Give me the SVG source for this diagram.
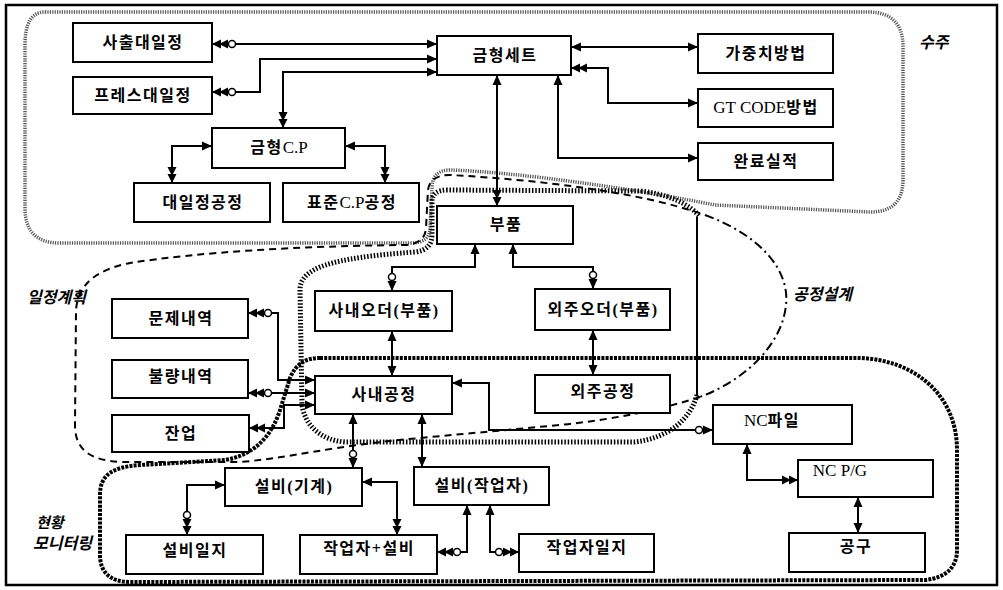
<svg xmlns="http://www.w3.org/2000/svg" width="1003" height="590" viewBox="0 0 1003 590">
<style>
.box{fill:#fff;stroke:#000;stroke-width:2}
.t{font-family:"Liberation Serif","Noto Sans CJK KR",serif;font-size:16px;font-weight:bold;letter-spacing:1.5px;text-anchor:middle;dominant-baseline:central;fill:#000}
.lat{font-weight:normal;letter-spacing:0}
.lbl{font-family:"Liberation Serif","Noto Sans CJK KR",serif;font-size:16px;font-weight:bold;font-style:italic;fill:#000}
.c{fill:none;stroke:#000;stroke-width:2}
.a1s{marker-start:url(#a1)}
.a2s{marker-start:url(#a2)}
.c2s{marker-start:url(#c2)}
.a1e{marker-end:url(#a1)}
.a2e{marker-end:url(#a2)}
.c1e{marker-end:url(#c1)}
.c2e{marker-end:url(#c2)}
.rgn-a{fill:none;stroke:#555;stroke-width:3.5;stroke-dasharray:1.2 1.2}
.rgn-b{fill:none;stroke:#000;stroke-width:2;stroke-dasharray:7 5}
.rgn-c{fill:none;stroke:#000;stroke-width:2;stroke-dasharray:9 4 2 4}
.rgn-d{fill:none;stroke:#000;stroke-width:5;stroke-dasharray:1.5 1.8}
.rgn-e{fill:none;stroke:#000;stroke-width:4;stroke-dasharray:3 1.2}
</style>
<defs>
<marker id="a1" markerUnits="userSpaceOnUse" markerWidth="30" markerHeight="30" refX="0" refY="0" orient="auto-start-reverse" overflow="visible">
<path d="M0,0 L-10,-4.5 L-10,4.5 Z" fill="#000"/>
</marker>
<marker id="a2" markerUnits="userSpaceOnUse" markerWidth="30" markerHeight="30" refX="0" refY="0" orient="auto-start-reverse" overflow="visible">
<path d="M0,0 L-9,-4.5 L-9,4.5 Z M-7,0 L-16,-4.5 L-16,4.5 Z" fill="#000"/>
</marker>
<marker id="c1" markerUnits="userSpaceOnUse" markerWidth="30" markerHeight="30" refX="0" refY="0" orient="auto-start-reverse" overflow="visible">
<path d="M0,0 L-10,-4.5 L-10,4.5 Z" fill="#000"/>
<circle cx="-14" cy="0" r="3.5" fill="#fff" stroke="#000" stroke-width="1.5"/>
</marker>
<marker id="c2" markerUnits="userSpaceOnUse" markerWidth="30" markerHeight="30" refX="0" refY="0" orient="auto-start-reverse" overflow="visible">
<path d="M0,0 L-9,-4.5 L-9,4.5 Z M-7,0 L-16,-4.5 L-16,4.5 Z" fill="#000"/>
<circle cx="-20" cy="0" r="3.5" fill="#fff" stroke="#000" stroke-width="1.5"/>
</marker>
</defs>
<rect width="1003" height="590" fill="#fff"/>
<rect x="6" y="5" width="991" height="580" fill="none" stroke="#000" stroke-width="2.5"/>

<g id="regions">
<path class="rgn-a" d="M45,12 H868 Q903,12 903,47 V180 Q903,212 870,212 L715,205 C640,190 520,172 450,170 Q432,170 432,188 L430,228 Q430,243 410,243 H60 Q25,243 25,208 V45 Q25,12 45,12 Z"/>
<path class="rgn-b" d="M700,397 C660,410 610,420 560,425 L420,438 C330,446 290,458 240,462 L120,462 C90,460 75,450 75,425 L76,310 C78,285 95,270 130,263 C200,252 300,246 405,245 Q425,244 426,228 L428,190 Q430,175 450,175 C540,180 640,192 705,215"/>
<path class="rgn-c" d="M705,215 C760,235 790,270 786,305 C782,345 745,380 700,397"/>
<path class="rgn-d" d="M697,395 C690,420 668,438 635,442 L345,442 C320,440 305,425 302,405 L300,290 C300,268 330,258 415,252 Q432,250 432,235 L432,202 Q432,190 447,190 L640,191 C668,194 690,204 700,217"/>
<line x1="697" y1="217" x2="697" y2="395" stroke="#000" stroke-width="2"/>
<path class="rgn-e" d="M320,358 L860,358 C915,360 957,395 957,450 L957,550 C957,568 945,578 925,580 L130,582 C110,582 100,572 100,555 L100,495 C100,475 112,467 140,465 L225,460 C255,455 272,435 280,410 L290,378 C296,364 305,358 320,358 Z"/>
<text class="lbl" x="919" y="48">수주</text>
<text class="lbl" x="27" y="303">일정계획</text>
<text class="lbl" x="793" y="300">공정설계</text>
<text class="lbl" x="36" y="528" style="font-size:15px">현황</text>
<text class="lbl" x="33" y="549">모니터링</text>
</g>

<g id="connectors">
<path class="c c2s a1e" d="M212,44 H437"/>
<path class="c c2s a1e" d="M212,92 H260 V59 H437"/>
<path class="c a1s a2e" d="M437,72 H283 V128"/>
<path class="c a1s a2e" d="M212,146 H172 V183"/>
<path class="c a1s a2e" d="M345,146 H385 V183"/>
<path class="c a1s a2e" d="M497,75 V206"/>
<path class="c a1s a1e" d="M571,47 H698"/>
<path class="c a2s a1e" d="M571,68 H608 V103 H698"/>
<path class="c a1s a1e" d="M558,75 V158 H698"/>
<path class="c a1s c1e" d="M475,244 V267 H392 V291"/>
<path class="c a1s c1e" d="M513,244 V267 H593 V289"/>
<path class="c a1s a1e" d="M392,331 V376"/>
<path class="c a1s a1e" d="M593,330 V375"/>
<path class="c c2s a1e" d="M248,313 H278 V380 H315"/>
<path class="c c2s a1e" d="M248,393 H315"/>
<path class="c a2s a1e" d="M249,428 H284 V405 H315"/>
<path class="c a1s c1e" d="M452,383 H489 V430 H713"/>
<path class="c a1s c1e" d="M353,414 V468"/>
<path class="c a1s a1e" d="M422,414 V467"/>
<path class="c a1s c2e" d="M225,485 H187 V535"/>
<path class="c a1s a2e" d="M362,482 H397 V535"/>
<path class="c a1s c2e" d="M467,505 V552 H437"/>
<path class="c a1s c2e" d="M490,505 V552 H519"/>
<path class="c a1s a2e" d="M747,444 V480 H798"/>
<path class="c a1s a1e" d="M858,497 V533"/>
</g>

<g id="n-sachul"><rect class="box" x="73" y="23" width="139" height="39"/><text class="t" x="143" y="42">사출대일정</text></g>
<g id="n-press"><rect class="box" x="73" y="77" width="139" height="37"/><text class="t" x="143" y="95">프레스대일정</text></g>
<g id="n-geumhyeongset"><rect class="box" x="437" y="36" width="134" height="39"/><text class="t" x="505" y="55">금형세트</text></g>
<g id="n-gajungchi"><rect class="box" x="698" y="34" width="135" height="39"/><text class="t" x="766" y="53">가중치방법</text></g>
<g id="n-gtcode"><rect class="box" x="698" y="89" width="135" height="38"/><text class="t" x="766" y="107"><tspan class="lat" style="font-size:17px">GT CODE</tspan>방법</text></g>
<g id="n-wanryo"><rect class="box" x="698" y="143" width="135" height="37"/><text class="t" x="766" y="161">완료실적</text></g>
<g id="n-geumhyeongcp"><rect class="box" x="212" y="128" width="133" height="40"/><text class="t" x="279" y="147">금형<tspan class="lat" style="font-size:17px">C.P</tspan></text></g>
<g id="n-daeiljeong"><rect class="box" x="134" y="183" width="136" height="39"/><text class="t" x="203" y="202">대일정공정</text></g>
<g id="n-pyojuncp"><rect class="box" x="283" y="183" width="136" height="39"/><text class="t" x="352" y="202">표준<tspan class="lat" style="font-size:17px">C.P</tspan>공정</text></g>
<g id="n-bupum"><rect class="box" x="437" y="206" width="136" height="38"/><text class="t" x="506" y="224">부품</text></g>
<g id="n-sanaeorder"><rect class="box" x="315" y="291" width="137" height="40"/><text class="t" x="384" y="310">사내오더(부품)</text></g>
<g id="n-oejuorder"><rect class="box" x="535" y="289" width="135" height="41"/><text class="t" x="603" y="309">외주오더(부품)</text></g>
<g id="n-munje"><rect class="box" x="112" y="299" width="136" height="39"/><text class="t" x="181" y="318">문제내역</text></g>
<g id="n-bulryang"><rect class="box" x="112" y="360" width="136" height="38"/><text class="t" x="181" y="376">불량내역</text></g>
<g id="n-janeop"><rect class="box" x="112" y="415" width="137" height="37"/><text class="t" x="181" y="433">잔업</text></g>
<g id="n-sanaegongjeong"><rect class="box" x="315" y="376" width="137" height="38"/><text class="t" x="384" y="394">사내공정</text></g>
<g id="n-oejugongjeong"><rect class="box" x="535" y="375" width="135" height="38"/><text class="t" x="603" y="391">외주공정</text></g>
<g id="n-ncfile"><rect class="box" x="713" y="405" width="139" height="39"/><text class="t" x="772" y="420"><tspan class="lat" style="font-size:17px">NC</tspan>파일</text></g>
<g id="n-ncpg"><rect class="box" x="798" y="460" width="135" height="37"/><text class="t" x="840" y="470"><tspan class="lat" style="font-size:17px">NC P/G</tspan></text></g>
<g id="n-gonggu"><rect class="box" x="789" y="533" width="136" height="39"/><text class="t" x="856" y="546">공구</text></g>
<g id="n-seolbigigye"><rect class="box" x="225" y="468" width="137" height="38"/><text class="t" x="294" y="486">설비(기계)</text></g>
<g id="n-seolbijageop"><rect class="box" x="414" y="467" width="135" height="38"/><text class="t" x="482" y="485">설비(작업자)</text></g>
<g id="n-seolbiilji"><rect class="box" x="126" y="535" width="137" height="39"/><text class="t" x="195" y="550">설비일지</text></g>
<g id="n-jageopseolbi"><rect class="box" x="300" y="535" width="137" height="39"/><text class="t" x="369" y="548">작업자+설비</text></g>
<g id="n-jageopilji"><rect class="box" x="519" y="534" width="135" height="38"/><text class="t" x="587" y="547">작업자일지</text></g>
</svg>
